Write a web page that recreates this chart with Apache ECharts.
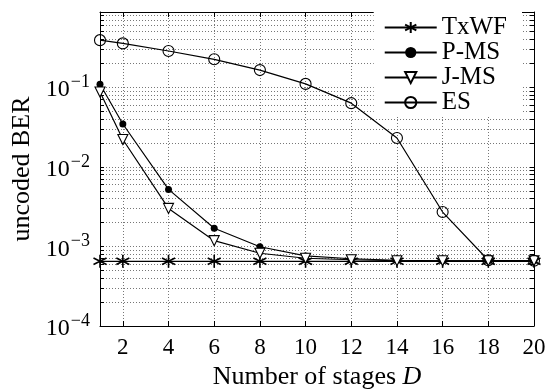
<!DOCTYPE html>
<html>
<head>
<meta charset="utf-8">
<script src="https://cdn.jsdelivr.net/npm/echarts@6/dist/echarts.min.js"></script>
<style>
  html, body { margin: 0; padding: 0; background: #fff; }
  #main { width: 548px; height: 389px; }
</style>
</head>
<body>
<div id="main"></div>
<script>
// stages D
var stages = [1, 2, 4, 6, 8, 10, 12, 14, 16, 18, 20];
// uncoded BER per scheme
var txwf = [6.5e-4, 6.5e-4, 6.5e-4, 6.5e-4, 6.5e-4, 6.5e-4, 6.5e-4, 6.5e-4, 6.5e-4, 6.5e-4, 6.5e-4];
var pms = [0.109, 0.0345, 0.0052, 0.00169, 0.00099, 0.00076, 0.0007, 0.00067, 0.00066, 0.00066, 0.00066];
var jms = [0.087, 0.022, 0.0030, 0.00118, 0.00082, 0.00071, 0.00068, 0.00066, 0.00066, 0.00066, 0.00066];
var es = [0.39, 0.355, 0.285, 0.224, 0.164, 0.11, 0.063, 0.023, 0.0027, 0.00067, 0.00066];

var xTicks = [2, 4, 6, 8, 10, 12, 14, 16, 18, 20];
var yDecades = [1e-4, 1e-3, 1e-2, 1e-1];
var yMin = 1e-4, yMax = 0.88;

// grid lines: every k*10^d inside the axis range
var yGrid = [];
yDecades.forEach(function (d) {
  for (var k = 1; k <= 9; k++) {
    var v = +(k * d).toPrecision(3);
    if (v <= yMax) yGrid.push(v);
  }
});

var serif = 'Liberation Serif';
var asterisk = 'path://M0,-10L0,10M-8.66,-5L8.66,5M-8.66,5L8.66,-5';

function pairs(ys) {
  return stages.map(function (x, i) { return [x, ys[i]]; });
}

var myChart = echarts.init(document.getElementById('main'));

var gridLine = { show: true, lineStyle: { color: '#777', width: 1, type: [1, 2] } };

var option = {
  animation: false,
  backgroundColor: '#fff',
  grid: { left: 100, right: 14, top: 12, bottom: 63, containLabel: false, outerBoundsMode: 'none' },
  legend: {
    orient: 'vertical',
    right: 26,
    top: 12,
    backgroundColor: '#fff',
    padding: [3, 15, 0, 10],
    itemGap: 0,
    itemWidth: 52,
    itemHeight: 14,
    itemTextGap: 13,
    textStyle: { fontFamily: serif, fontSize: 25, color: '#000', lineHeight: 24 },
    data: ['TxWF', 'P-MS', 'J-MS', 'ES']
  },
  xAxis: [{
    type: 'value',
    min: 1,
    max: 20,
    name: 'Number of stages {i|D}',
    nameLocation: 'middle',
    nameGap: 35,
    nameTextStyle: {
      fontFamily: serif, fontSize: 26, color: '#000',
      rich: { i: { fontFamily: serif, fontSize: 26, fontStyle: 'italic', color: '#000' } }
    },
    axisLine: { show: true, onZero: false, lineStyle: { color: '#000', width: 1 } },
    axisTick: { show: true, inside: true, length: 5, customValues: xTicks, lineStyle: { color: '#000' } },
    axisLabel: { customValues: xTicks, fontFamily: serif, fontSize: 23, color: '#000', margin: 10 },
    splitLine: gridLine
  }, {
    type: 'value',
    min: 1,
    max: 20,
    position: 'top',
    axisLine: { show: true, onZero: false, lineStyle: { color: '#000', width: 1 } },
    axisTick: { show: true, inside: true, length: 5, customValues: xTicks, lineStyle: { color: '#000' } },
    axisLabel: { show: false },
    splitLine: { show: false }
  }],
  yAxis: [{
    type: 'log',
    logBase: 10,
    min: yMin,
    max: yMax,
    name: 'uncoded BER',
    nameLocation: 'middle',
    nameGap: 63,
    nameTextStyle: { fontFamily: serif, fontSize: 26, color: '#000' },
    axisLine: { show: true, onZero: false, lineStyle: { color: '#000', width: 1 } },
    axisTick: { show: true, inside: true, length: 4, customValues: yGrid, lineStyle: { color: '#000' } },
    axisLabel: {
      customValues: yDecades,
      margin: 10,
      color: '#000',
      formatter: function (v) {
        var e = Math.round(Math.log10(v));
        return '{b|10}{s|\u2212' + (-e) + '}';
      },
      rich: {
        b: { fontFamily: serif, fontSize: 24, color: '#000', padding: [6, 0, 0, 0] },
        s: { fontFamily: serif, fontSize: 18, color: '#000', padding: [0, 0, 10, 1] }
      }
    },
    splitLine: gridLine
  }, {
    type: 'log',
    logBase: 10,
    min: yMin,
    max: yMax,
    position: 'right',
    axisLine: { show: true, onZero: false, lineStyle: { color: '#000', width: 1 } },
    axisTick: { show: true, inside: true, length: 4, customValues: yGrid, lineStyle: { color: '#000' } },
    axisLabel: { show: false },
    splitLine: { show: false }
  }],
  series: [
    {
      name: 'TxWF', type: 'line', data: pairs(txwf),
      symbol: asterisk, symbolSize: 13,
      lineStyle: { color: '#000', width: 1.2 },
      itemStyle: { color: '#000', borderColor: '#000', borderWidth: 1.6 }
    },
    {
      name: 'P-MS', type: 'line', data: pairs(pms),
      symbol: 'circle', symbolSize: 7,
      lineStyle: { color: '#000', width: 1.2 },
      itemStyle: { color: '#000' }
    },
    {
      name: 'J-MS', type: 'line', data: pairs(jms),
      symbol: 'triangle', symbolRotate: 180, symbolSize: 10,
      lineStyle: { color: '#000', width: 1.2 },
      itemStyle: { color: '#fff', borderColor: '#000', borderWidth: 1.1 }
    },
    {
      name: 'ES', type: 'line', data: pairs(es),
      symbol: 'circle', symbolSize: 11,
      lineStyle: { color: '#000', width: 1.2 },
      itemStyle: { color: 'rgba(255,255,255,0)', borderColor: '#000', borderWidth: 1.1 }
    }
  ]
};

option && myChart.setOption(option);
</script>
</body>
</html>
